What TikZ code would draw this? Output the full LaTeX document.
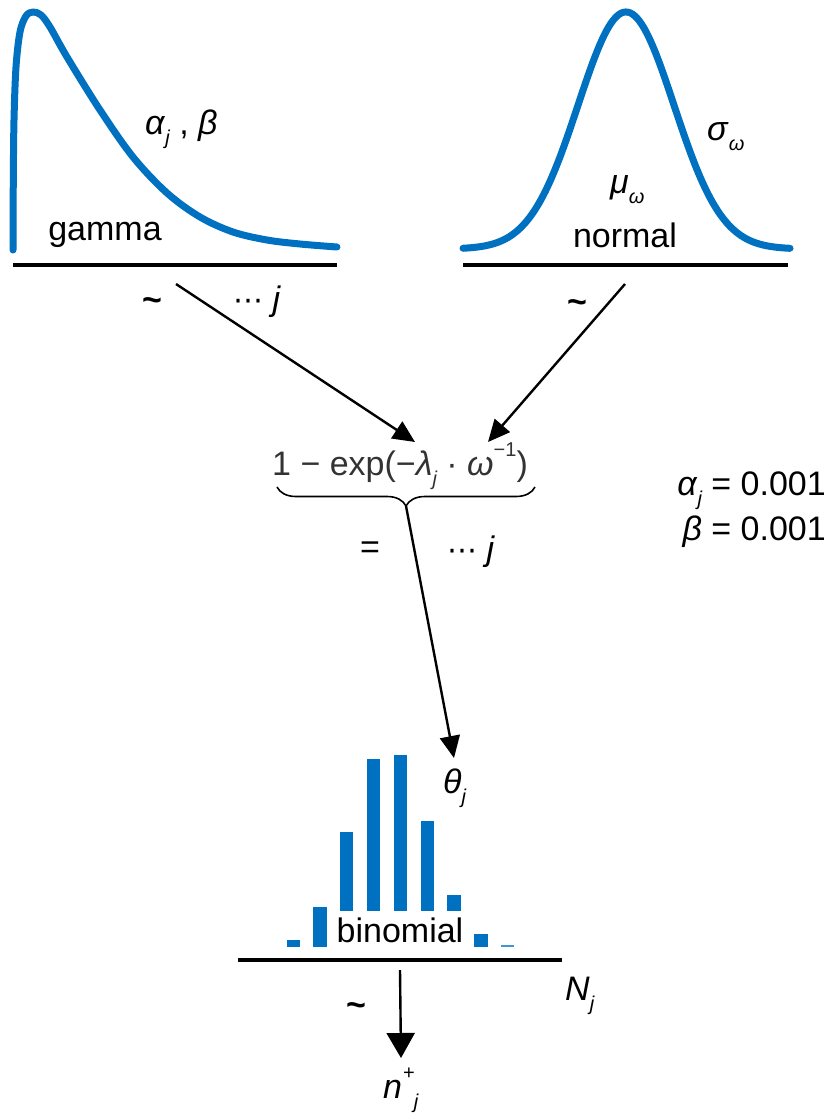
\documentclass[tikz,border=0pt]{standalone}
\usepackage{fontspec}
\setmainfont{Liberation Sans}
\newfontfamily\dv{DejaVu Sans}
\usetikzlibrary{arrows.meta,decorations.pathreplacing}
\definecolor{curveblue}{HTML}{0070C0}
\definecolor{barlight}{HTML}{3F95D6}
\definecolor{formulagray}{HTML}{333333}
% small lowered / raised indices
\newcommand{\lo}[1]{\raisebox{-0.32em}{\fontsize{20}{20}\selectfont\itshape #1}}
\newcommand{\hi}[1]{\raisebox{0.55em}{\fontsize{20}{20}\selectfont #1}}
\newcommand{\dotsrow}{{\dv\fontsize{30}{30}\selectfont ⋯}}
\newcommand{\tildesign}{{\bfseries\textasciitilde}}
\begin{document}
\begin{tikzpicture}[x=1pt,y=-1pt,
  every node/.style={font=\fontsize{34}{40}\selectfont, inner sep=0pt},
  curve/.style={curveblue, line width=7pt, line cap=round, line join=round},
  axisline/.style={black, line width=4pt},
  link/.style={black, line width=2.4pt, -{Triangle[length=22pt,width=20pt]}},
  bar/.style={fill=curveblue, draw=none}]
\useasboundingbox (0,0) rectangle (833,1116);

% ---- gamma prior ----
\draw[curve] plot[smooth, tension=0.55] coordinates {
  (13,250) (13.3,180) (14,120) (16,67) (20,32) (26,16) (33,12) (41,15)
  (50,27) (67,57) (100,110) (133,157) (167,193) (200,217) (233,232)
  (267,240) (300,244) (337,247)};
\draw[axisline] (13,265) coordinate (gL) -- (337,265) coordinate (gR);
\node[anchor=base] (gname) at (105,240) {gamma};
\node[anchor=base west] (gpar) at (145,134) {\textit{α}\lo{j} , \textit{β}};
\node[anchor=base] (gtil) at (152,311) {\tildesign};
\node[anchor=base west] (gidx) at (233,310) {\dotsrow\ \textit{j}};

% ---- normal prior ----
\draw[curve] plot[domain=463:790, samples=140] (\x, {249 - 237*exp(-((\x-626)/48)^2/2)});
\draw[axisline] (463,265) coordinate (nL) -- (788,265) coordinate (nR);
\node[anchor=base west] (nsig) at (707,140) {\textit{σ}\lo{ω}};
\node[anchor=base west] (nmu) at (610,193) {\textit{μ}\lo{ω}};
\node[anchor=base] (nname) at (625,247) {normal};
\node[anchor=base] (ntil) at (577,313) {\tildesign};

% ---- link function ----
\node[anchor=base west, text=formulagray] (form) at (272,475)
  {1 − exp(−\textit{λ}\lo{j} · \textit{ω}\hi{−1})};
\draw[decorate, decoration={brace, mirror, amplitude=19pt}, line width=1.6pt]
  (277,487) -- (535,487);
\coordinate (btip) at (406,506);
\node[anchor=base] (eq) at (370,558) {=};
\node[anchor=base west] (fidx) at (447,560) {\dotsrow\ \textit{j}};

\coordinate (g0) at (176,284);
\coordinate (n0) at (625,284);
\coordinate (fin1) at (415,442);
\coordinate (fin2) at (488,442);
\draw[link] (g0) -- (fin1);
\draw[link] (n0) -- (fin2);

% ---- hyperparameters ----
\node[anchor=base east] (ha) at (826,495) {\textit{α}\lo{j} = 0.001};
\node[anchor=base east] (hb) at (826,540) {\textit{β} = 0.001};

% ---- binomial likelihood ----
\coordinate (th) at (454,758);
\draw[link] (btip) -- (th);
\node[anchor=base west] (theta) at (443,793) {\textit{θ}\lo{j}};

\fill[bar] (287,940) rectangle ++(13,7);
\fill[bar] (313,907) rectangle ++(14,40);
\fill[bar] (340,832) rectangle ++(13,115);
\fill[bar] (367,759) rectangle ++(13,188);
\fill[bar] (394,755) rectangle ++(13,192);
\fill[bar] (421,821) rectangle ++(13,126);
\fill[bar] (447,895) rectangle ++(14,52);
\fill[bar] (474,934) rectangle ++(14,13);
\fill[barlight] (501,945) rectangle ++(13,2);
\node[anchor=base, fill=white, inner xsep=2pt, inner ysep=6pt] (bname) at (400,942) {binomial};

\draw[axisline] (238,960) coordinate (bL) -- (562,960) coordinate (bR);
\node[anchor=base west] (nN) at (565,1000) {\textit{N}\lo{j}};
\node[anchor=base] (btil) at (356,1016) {\tildesign};

\coordinate (b0) at (400,970);
\coordinate (out) at (401,1058);
\draw[black, line width=2.4pt, -{Triangle[length=25pt,width=28pt]}] (b0) -- (out);
\node[anchor=base west] (npos) at (383,1098) {\textit{n}\kern1pt\hi{+}\kern-1pt\lo{j}};
\end{tikzpicture}
\end{document}
